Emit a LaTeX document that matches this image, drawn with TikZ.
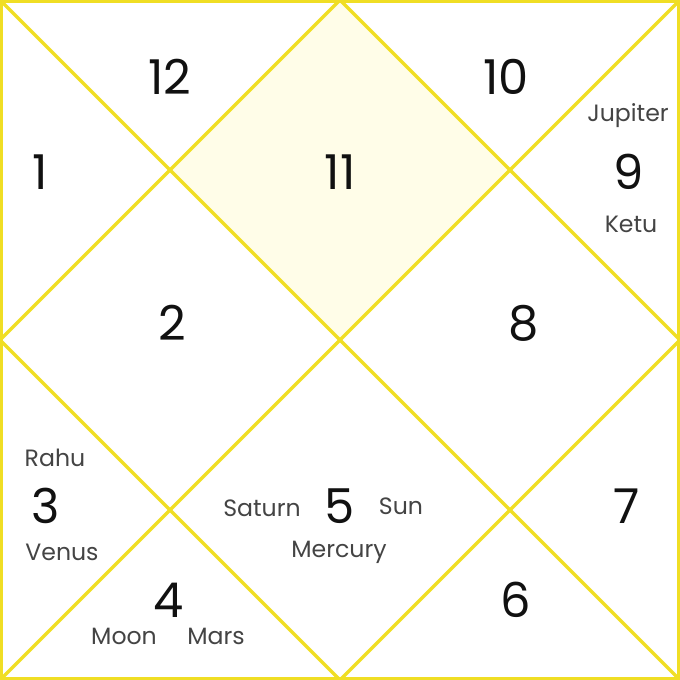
\documentclass[tikz,border=0pt]{standalone}
\usepackage{fontspec}
\setmainfont{Poppins}
\usepackage{xcolor}
\usetikzlibrary{positioning}
\definecolor{chartline}{RGB}{240,222,36}
\definecolor{housefill}{RGB}{255,253,232}
\definecolor{numtext}{RGB}{17,17,17}
\definecolor{planettext}{RGB}{68,68,68}

\begin{document}
\begin{tikzpicture}[
    x=0.5pt, y=-0.5pt,
    edge/.style={draw=chartline, line width=1.6pt},
    frame/.style={draw=chartline, line width=2.2pt},
    house/.style={font=\fontsize{24}{24}\selectfont, text=numtext, inner sep=0pt},
    planet/.style={font=\fontsize{11.8}{12}\selectfont, text=planettext, inner sep=0pt}
]
\useasboundingbox (0,0) rectangle (680,680);
\fill[white] (0,0) rectangle (680,680);
% corners and midpoints
\coordinate (tl) at (0,0);
\coordinate (tr) at (680,0);
\coordinate (br) at (680,680);
\coordinate (bl) at (0,680);
\coordinate (tm) at (340,0);
\coordinate (rm) at (680,340);
\coordinate (bm) at (340,680);
\coordinate (lm) at (0,340);
\coordinate (c) at (340,340);
\coordinate (ul) at (170,170);
\coordinate (ur) at (510,170);
% house 11 shading
\fill[housefill] (tm) -- (ur) -- (c) -- (ul) -- cycle;
\draw[edge] (tl) -- (br);
\draw[edge] (tr) -- (bl);
\draw[edge] (tm) -- (rm) -- (bm) -- (lm) -- cycle;
\draw[frame] (1.1,1.1) rectangle (678.9,678.9);
% house numbers
\node[house] (h12) at (170,77) {12};
\node[house] (h10) at (506,77) {10};
\node[house] (h1) at (40,172) {1};
\node[house] (h11) at (340,172) {11};
\node[house] (h9) at (629,172) {9};
\node[house] (h2) at (172,323) {2};
\node[house] (h8) at (524,323) {8};
\node[house] (h3) at (46,506) {3};
\node[house] (h5) at (340,506) {5};
\node[house] (h7) at (627,506) {7};
\node[house] (h4) at (169,600) {4};
\node[house] (h6) at (516,600) {6};
% planets
\node[planet] (jupiter) at (628,116) {Jupiter};
\node[planet] (ketu) at (631,224) {Ketu};
\node[planet] (rahu) at (55,458) {Rahu};
\node[planet] (venus) at (62,552) {Venus};
\node[planet] (saturn) at (262,508) {Saturn};
\node[planet] (sun) at (401,506) {Sun};
\node[planet] (mercury) at (339,552) {Mercury};
\node[planet] (moon) at (124,636) {Moon};
\node[planet] (mars) at (216,636) {Mars};
\end{tikzpicture}
\end{document}
